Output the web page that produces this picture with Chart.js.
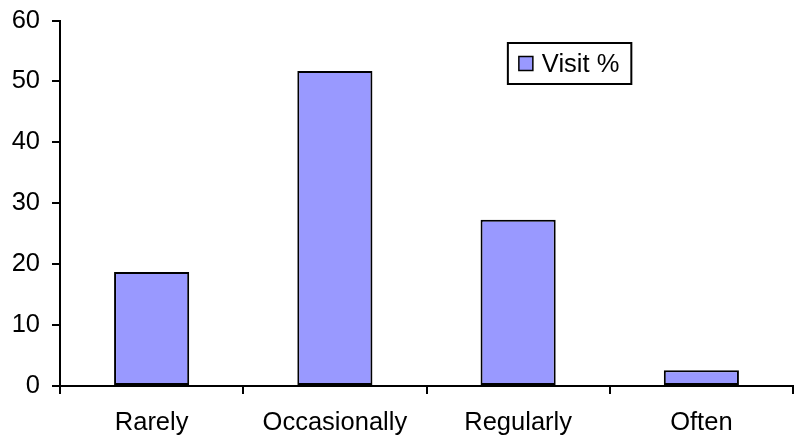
<!DOCTYPE html>
<html>
<head>
<meta charset="utf-8">
<style>
  html, body { margin: 0; padding: 0; background: #ffffff; }
  #wrap { width: 794px; height: 442px; position: relative; }
</style>
<script src="https://cdn.jsdelivr.net/npm/chart.js@4.4.1/dist/chart.umd.min.js"></script>
</head>
<body>
<div id="wrap"><canvas id="chart" width="794" height="442"></canvas></div>
<script>
// Visit frequency categories and their share of visits (%)
const categories = ['Rarely', 'Occasionally', 'Regularly', 'Often'];
const visitPercent = [18.7, 51.7, 27.3, 2.6];
const seriesName = 'Visit %';
const yTicks = [0, 10, 20, 30, 40, 50, 60];

const FONT_FAMILY = '"Liberation Sans", Arial, Helvetica, sans-serif';
const FONT_SIZE = 25.5;
const BAR_FILL = '#9999FF';

// Boxed legend drawn inside the plot, upper right
const boxedLegend = {
  id: 'boxedLegend',
  afterDraw(chart) {
    const { ctx, chartArea } = chart;
    const ds = chart.data.datasets[0];
    ctx.save();
    ctx.font = FONT_SIZE + 'px ' + FONT_FAMILY;
    const textW = ctx.measureText(ds.label).width;
    const sq = 14, padL = 11, gap = 9, padR = 12, h = 41;
    const w = padL + sq + gap + textW + padR;
    const x = chartArea.left + (chartArea.right - chartArea.left) * 0.611;
    const y = chartArea.top + 22.5;
    ctx.fillStyle = '#ffffff';
    ctx.fillRect(x, y, w, h);
    ctx.lineWidth = 2;
    ctx.strokeStyle = '#000000';
    ctx.strokeRect(x, y, w, h);
    const cy = y + h / 2;
    ctx.fillStyle = ds.backgroundColor;
    ctx.fillRect(x + padL, cy - sq / 2, sq, sq);
    ctx.lineWidth = 1.5;
    ctx.strokeRect(x + padL, cy - sq / 2, sq, sq);
    ctx.fillStyle = '#000000';
    ctx.textBaseline = 'middle';
    ctx.textAlign = 'left';
    ctx.fillText(ds.label, x + padL + sq + gap, cy + 1);
    ctx.restore();
  }
};

new Chart(document.getElementById('chart'), {
  type: 'bar',
  data: {
    labels: categories,
    datasets: [{
      label: seriesName,
      data: visitPercent,
      backgroundColor: BAR_FILL,
      borderColor: '#000000',
      borderWidth: 2,
      borderSkipped: false,
      barPercentage: 0.41,
      categoryPercentage: 1.0
    }]
  },
  options: {
    responsive: false,
    animation: false,
    devicePixelRatio: 1,
    layout: { padding: { top: 20.5, right: 1, left: 0, bottom: 0 } },
    plugins: {
      legend: { display: false },
      tooltip: { enabled: false }
    },
    scales: {
      x: {
        grid: {
          display: true,
          offset: true,
          drawOnChartArea: false,
          drawTicks: true,
          tickLength: 8,
          color: '#000000',
          lineWidth: 2
        },
        border: { display: true, color: '#000000', width: 2 },
        ticks: {
          color: '#000000',
          padding: 14,
          font: { family: FONT_FAMILY, size: FONT_SIZE }
        },
        afterFit(scale) {
          scale.height = 56;
          scale.paddingLeft = 0;
          scale.paddingRight = 0;
        }
      },
      y: {
        min: 0,
        max: 60,
        afterBuildTicks(scale) { scale.ticks = yTicks.map(v => ({ value: v })); },
        grid: {
          display: true,
          drawOnChartArea: false,
          drawTicks: true,
          tickLength: 8,
          color: '#000000',
          lineWidth: 2
        },
        border: { display: true, color: '#000000', width: 2 },
        ticks: {
          color: '#000000',
          padding: 12,
          font: { family: FONT_FAMILY, size: FONT_SIZE }
        },
        afterFit(scale) {
          scale.width = 60;
          scale.paddingTop = 0;
          scale.paddingBottom = 0;
        }
      }
    }
  },
  plugins: [boxedLegend]
});
</script>
</body>
</html>
